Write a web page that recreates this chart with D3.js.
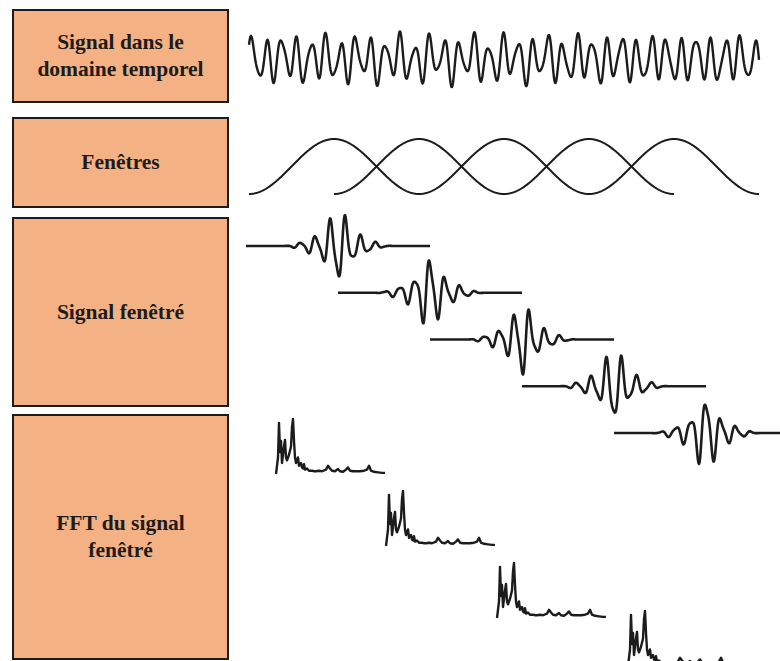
<!DOCTYPE html>
<html>
<head>
<meta charset="utf-8">
<script src="https://cdn.jsdelivr.net/npm/d3@7"></script>
<style>
  html, body { margin: 0; padding: 0; background: #fff; }
  svg { display: block; }
</style>
</head>
<body>
<div id="chart"></div>
<script>
// ==============================
// Données du schéma (TFCT)
// ==============================

const rowLabels = [
  ["Signal dans le", "domaine temporel"],
  ["Fenêtres"],
  ["Signal fenêtré"],
  ["FFT du signal", "fenêtré"]
];

// composantes du signal temporel (période en échantillons, amplitude, phase)
const signalPeriods = [14.8, 9.4, 37.5];
const signalAmps = [1, 0.3, 0.2];
const signalPhases = [0.3, 1.2, 2.0];

// fenêtres de Hann (centre en nombre de pas)
const windowCenters = [1, 2, 3, 4, 5];

// phase de la porteuse au centre de chaque segment fenêtré
const burstPhases = [Math.PI, 0, Math.PI, Math.PI, 0];
const burstHarmonicPhases = [0.8, 2.1, 1.4, 0.3, 2.6];

// spectre (fréquence en bins, module normalisé)
const fftFreq = [0, 2, 3, 4, 5, 6, 7, 8, 9, 10, 11, 13, 15, 16, 17, 18, 19, 20, 21, 22, 23, 25, 26, 27, 28, 29, 31, 33, 36, 38, 40, 43, 46, 50, 52, 54, 56, 59, 62, 64, 67, 70, 72, 74, 77, 80, 84, 88, 91, 93, 95, 98, 102, 106, 109];
const fftMag = [0, 0.3, 0.93, 0.4, 0.6, 0.2, 0.35, 0.5, 0.62, 0.3, 0.25, 0.35, 0.5, 0.85, 1.0, 0.6, 0.3, 0.2, 0.25, 0.3, 0.15, 0.2, 0.12, 0.1, 0.18, 0.08, 0.1, 0.06, 0.06, 0.05, 0.05, 0.06, 0.05, 0.08, 0.15, 0.1, 0.06, 0.05, 0.09, 0.05, 0.04, 0.08, 0.12, 0.06, 0.05, 0.05, 0.05, 0.06, 0.08, 0.15, 0.06, 0.04, 0.03, 0.02, 0.02];

// ==============================
// Mise en page
// ==============================
const W = 780, H = 661;
const BOX_FILL = "#f4b183";
const INK = "#1c1c1c";
const SERIF = "'Liberation Serif', 'Times New Roman', Times, serif";

const boxes = [
  { y0: 10, y1: 102 },
  { y0: 118, y1: 207 },
  { y0: 218, y1: 406 },
  { y0: 415, y1: 659 }
];

const svg = d3.select("#chart").append("svg")
  .attr("width", W).attr("height", H)
  .attr("viewBox", `0 0 ${W} ${H}`);

svg.append("rect").attr("width", W).attr("height", H).attr("fill", "#fff");

const defs = svg.append("defs");
defs.append("filter").attr("id", "flou")
  .append("feGaussianBlur").attr("stdDeviation", 1.2);

// boîtes + libellés (un <text> par ligne)
boxes.forEach((b, i) => {
  svg.append("rect")
    .attr("x", 13).attr("y", b.y0)
    .attr("width", 215).attr("height", b.y1 - b.y0)
    .attr("fill", BOX_FILL)
    .attr("stroke", INK).attr("stroke-width", 2);

  const lines = rowLabels[i];
  const lh = 27;
  const cy = (b.y0 + b.y1) / 2;
  lines.forEach((s, j) => {
    svg.append("text")
      .attr("x", 120.5)
      .attr("y", cy + 6.5 + (j - (lines.length - 1) / 2) * lh)
      .attr("text-anchor", "middle")
      .attr("font-family", SERIF)
      .attr("font-weight", "bold")
      .attr("font-size", 21.5)
      .style("font-family", SERIF)
      .style("font-weight", "bold")
      .style("font-size", "21.5px")
      .style("fill", INK)
      .text(s);
  });
});

// ==============================
// Signal temporel
// ==============================
const N = 510, HOP = 85;
const xT = d3.scaleLinear().domain([0, N]).range([249, 759]);

function signal(t) {
  let v = 0;
  for (let k = 0; k < signalPeriods.length; k++) {
    v += signalAmps[k] * Math.sin(2 * Math.PI * t / signalPeriods[k] + signalPhases[k]);
  }
  return v;
}

const ts = d3.range(0, N + 0.5, 0.5);
const sMax = d3.max(ts, t => Math.abs(signal(t)));
const ySig = d3.scaleLinear().domain([-sMax, sMax]).range([87, 31]);

const line = d3.line().curve(d3.curveLinear);

svg.append("path")
  .attr("d", line(ts.map(t => [xT(t), ySig(signal(t))])))
  .attr("fill", "none").attr("stroke", INK)
  .attr("stroke-width", 2.4).attr("stroke-linejoin", "round");

// ==============================
// Fenêtres
// ==============================
const yWin = d3.scaleLinear().domain([0, 1]).range([194, 139]);
const hann = (t, c) => {
  const u = (t - c * HOP) / HOP;
  return Math.abs(u) <= 1 ? 0.5 * (1 + Math.cos(Math.PI * u)) : 0;
};

[[0, 2, 4], [1, 3]].forEach(group => {
  const cs = group.map(i => windowCenters[i]);
  const t0 = (d3.min(cs) - 1) * HOP, t1 = (d3.max(cs) + 1) * HOP;
  const pts = d3.range(t0, t1 + 0.5, 1).map(t => [xT(t), yWin(d3.max(cs, c => hann(t, c)))]);
  svg.append("path")
    .attr("d", line(pts))
    .attr("fill", "none").attr("stroke", INK).attr("stroke-width", 2);
});

// ==============================
// Signal fenêtré
// ==============================
const segX = d3.scaleLinear().domain([0, 5]).range([246, 706]);
const segY = d3.scaleLinear().domain([0, 4]).range([246, 433]);
const yBurst = d3.scaleLinear().domain([-1, 1]).range([31, -31]);

function burst(u, k) {
  const g = u / 10;
  const w = 0.62 * Math.exp(-(g * g)) +
    (Math.abs(u) < 56 ? 0.45 * 0.5 * (1 + Math.cos(Math.PI * u / 56)) : 0);
  const v = Math.cos(2 * Math.PI * u / 15 + burstPhases[k]) +
    0.25 * Math.cos(2 * Math.PI * u / 7.8 + burstHarmonicPhases[k]);
  return w * v;
}

burstPhases.forEach((_, k) => {
  const cx = segX(k + 1), base = segY(k);
  const us = d3.range(-92, 92.5, 0.5);
  const pts = us.map(u => [cx + u, base + yBurst(burst(u, k))]);
  svg.append("path")
    .attr("d", line(pts))
    .attr("fill", "none").attr("stroke", INK)
    .attr("stroke-width", 2.6).attr("stroke-linejoin", "round");
});

// ==============================
// FFT du signal fenêtré
// ==============================
const spectra = [
  { x: 276, y: 474 },
  { x: 386, y: 546 },
  { x: 497, y: 618 },
  { x: 628, y: 666 }
];

spectra.forEach(o => {
  const fx = d3.scaleLinear().domain([0, 109]).range([o.x, o.x + 109]);
  const fy = d3.scaleLinear().domain([0, 1]).range([o.y, o.y - 55]);

  // halo gris très pâle
  svg.append("line")
    .attr("x1", fx(71)).attr("x2", fx(113))
    .attr("y1", o.y - 51).attr("y2", o.y - 51)
    .attr("stroke", "#e6e6e6").attr("stroke-width", 4)
    .attr("filter", "url(#flou)");

  svg.append("path")
    .attr("d", line(fftFreq.map((f, i) => [fx(f), fy(fftMag[i])])))
    .attr("fill", "none").attr("stroke", INK)
    .attr("stroke-width", 2.4).attr("stroke-linejoin", "round");
});
</script>
</body>
</html>
